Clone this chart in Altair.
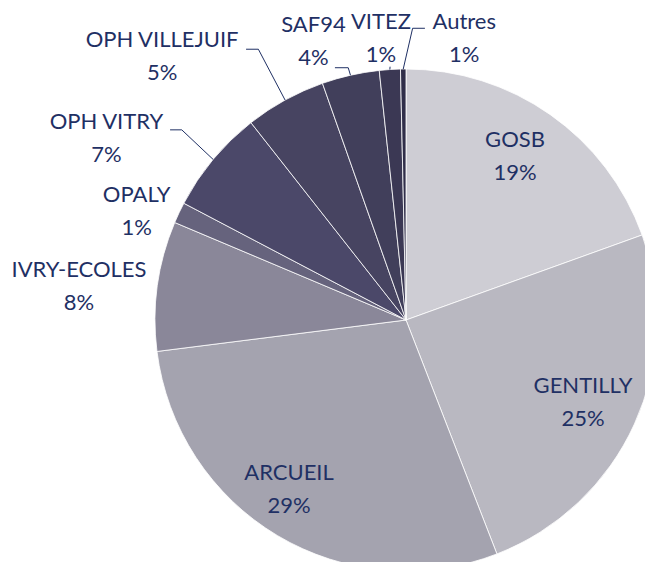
import altair as alt
import pandas as pd

# ---- data (clockwise from 12 o'clock) ----
names = ["GOSB", "GENTILLY", "ARCUEIL", "IVRY-ECOLES", "OPALY",
         "OPH VITRY", "OPH VILLEJUIF", "SAF94", "VITEZ", "Autres"]
shares = [19.5, 24.6, 28.9, 8.35, 1.35, 6.7, 5.2, 3.7, 1.35, 0.35]
pct_labels = ["19%", "25%", "29%", "8%", "1%", "7%", "5%", "4%", "1%", "1%"]

# ---- styling ----
colors = ["#CECDD4", "#B9B8C1", "#A4A3AF", "#8A8799", "#66637D",
          "#4B4869", "#474461", "#413F5B", "#3B3854", "#302E49"]
navy = "#1F3064"

# ---- label layout (polar, degrees clockwise from top / pixels) ----
label_angle = [33.7, 115.1, 214.6, 275.8, 292.0, 301.2, 317.2, 341.6, 354.9, 11.7]
label_radius = [196.5, 195.5, 206, 328.7, 290.5, 350.2, 359, 293.3, 282.3, 287.3]
has_leader = [False, False, False, False, False, True, True, True, True, True]
elbow_angle = [0, 0, 0, 0, 0, 310.3, 331.4, 347.1, 356.4, 1.3]
elbow_radius = [0, 0, 0, 0, 0, 294, 308.4, 258.8, 253.8, 291.8]
tail = [0, 0, 0, 0, 0, -11.7, -12.3, -13.3, 0, 12.3]

W, H = 637, 554
CX, CY = 398, 312
R = 251

df = pd.DataFrame({
    "name": names,
    "value": shares,
    "label": [f"{n}\n{p}" for n, p in zip(names, pct_labels)],
    "order": list(range(len(names))),
    "la": label_angle,
    "lr": label_radius,
    "lead": has_leader,
    "ba": elbow_angle,
    "br": elbow_radius,
    "tail": tail,
})

base = alt.Chart(df)

xs = alt.Scale(domain=[-CX, W - CX])
ys = alt.Scale(domain=[-CY, H - CY], reverse=True)

pie = base.mark_arc(radius=R, stroke="white", strokeWidth=0.8).encode(
    theta=alt.Theta("value:Q", stack=True),
    color=alt.Color("name:N", scale=alt.Scale(domain=names, range=colors), legend=None),
    order=alt.Order("order:Q"),
    x=alt.value(CX),
    y=alt.value(CY),
)

geo = (
    base.transform_joinaggregate(total="sum(value)")
    .transform_window(cum="sum(value)", sort=[alt.SortField("order")], frame=[None, 0])
    .transform_calculate(
        ex=f"{R} * sin((datum.cum - datum.value / 2) / datum.total * 2 * PI)",
        ey=f"-{R} * cos((datum.cum - datum.value / 2) / datum.total * 2 * PI)",
        lx="datum.lr * sin(datum.la * PI / 180)",
        ly="-datum.lr * cos(datum.la * PI / 180)",
        bx="datum.br * sin(datum.ba * PI / 180)",
        by="-datum.br * cos(datum.ba * PI / 180)",
    )
    .transform_calculate(tx="datum.bx + datum.tail")
)

leads = geo.transform_filter("datum.lead")

rule1 = leads.mark_rule(color=navy, strokeWidth=1).encode(
    x=alt.X("ex:Q", scale=xs, axis=None),
    y=alt.Y("ey:Q", scale=ys, axis=None),
    x2="bx:Q",
    y2="by:Q",
)
rule2 = leads.mark_rule(color=navy, strokeWidth=1).encode(
    x=alt.X("bx:Q", scale=xs, axis=None),
    y=alt.Y("by:Q", scale=ys, axis=None),
    x2="tx:Q",
    y2="by:Q",
)

text = geo.mark_text(
    font="Lato", fontSize=22, lineBreak="\n", lineHeight=33, dy=-16.5,
    align="center", baseline="middle", color=navy,
).encode(
    x=alt.X("lx:Q", scale=xs, axis=None),
    y=alt.Y("ly:Q", scale=ys, axis=None),
    text="label:N",
)

chart = (
    alt.layer(pie, rule1, rule2, text)
    .properties(width=W, height=H, padding=0, background="white",
                autosize=alt.AutoSizeParams(type="none"))
    .configure_view(stroke=None)
)

chart.save("out.html", embed_options={"renderer": "svg", "actions": False})
